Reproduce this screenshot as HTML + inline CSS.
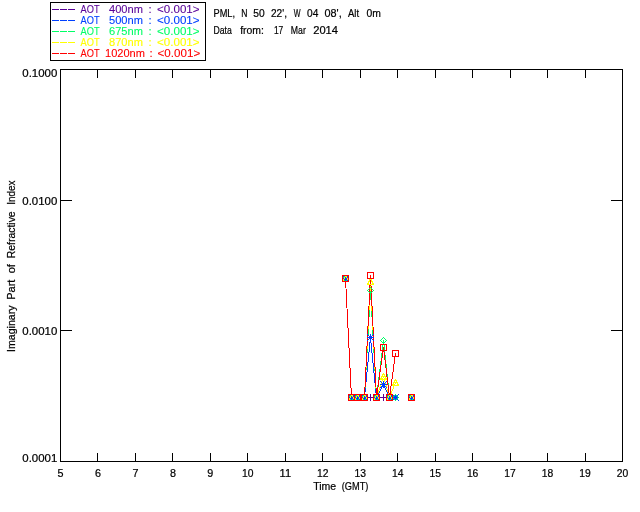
<!DOCTYPE html>
<html lang="en"><head><meta charset="utf-8"><title>Imaginary Part of Refractive Index</title>
<style>html,body{margin:0;padding:0;background:#fff;}svg{display:block;}text{font-family:"Liberation Sans", sans-serif;}</style>
</head><body>
<svg width="640" height="512" viewBox="0 0 640 512">
<rect x="0" y="0" width="640" height="512" fill="#fff"/>
<g stroke="#000" stroke-width="1" fill="none" shape-rendering="crispEdges">
<rect x="60.5" y="69.5" width="562" height="392"/>
<line x1="97.5" y1="69.5" x2="97.5" y2="77.5"/>
<line x1="97.5" y1="461.5" x2="97.5" y2="452.5"/>
<line x1="135.5" y1="69.5" x2="135.5" y2="77.5"/>
<line x1="135.5" y1="461.5" x2="135.5" y2="452.5"/>
<line x1="172.5" y1="69.5" x2="172.5" y2="77.5"/>
<line x1="172.5" y1="461.5" x2="172.5" y2="452.5"/>
<line x1="210.5" y1="69.5" x2="210.5" y2="77.5"/>
<line x1="210.5" y1="461.5" x2="210.5" y2="452.5"/>
<line x1="247.5" y1="69.5" x2="247.5" y2="77.5"/>
<line x1="247.5" y1="461.5" x2="247.5" y2="452.5"/>
<line x1="285.5" y1="69.5" x2="285.5" y2="77.5"/>
<line x1="285.5" y1="461.5" x2="285.5" y2="452.5"/>
<line x1="322.5" y1="69.5" x2="322.5" y2="77.5"/>
<line x1="322.5" y1="461.5" x2="322.5" y2="452.5"/>
<line x1="360.5" y1="69.5" x2="360.5" y2="77.5"/>
<line x1="360.5" y1="461.5" x2="360.5" y2="452.5"/>
<line x1="397.5" y1="69.5" x2="397.5" y2="77.5"/>
<line x1="397.5" y1="461.5" x2="397.5" y2="452.5"/>
<line x1="435.5" y1="69.5" x2="435.5" y2="77.5"/>
<line x1="435.5" y1="461.5" x2="435.5" y2="452.5"/>
<line x1="472.5" y1="69.5" x2="472.5" y2="77.5"/>
<line x1="472.5" y1="461.5" x2="472.5" y2="452.5"/>
<line x1="510.5" y1="69.5" x2="510.5" y2="77.5"/>
<line x1="510.5" y1="461.5" x2="510.5" y2="452.5"/>
<line x1="547.5" y1="69.5" x2="547.5" y2="77.5"/>
<line x1="547.5" y1="461.5" x2="547.5" y2="452.5"/>
<line x1="585.5" y1="69.5" x2="585.5" y2="77.5"/>
<line x1="585.5" y1="461.5" x2="585.5" y2="452.5"/>
<line x1="60.5" y1="200.5" x2="71.5" y2="200.5"/>
<line x1="622.5" y1="200.5" x2="610.5" y2="200.5"/>
<line x1="60.5" y1="330.5" x2="71.5" y2="330.5"/>
<line x1="622.5" y1="330.5" x2="610.5" y2="330.5"/>
<rect x="50.5" y="2.5" width="155" height="58"/>
</g>
<text x="60.50" y="477.00" font-size="11.2" text-anchor="middle" fill="#000" stroke="#000" stroke-width="0.22" textLength="6.00" lengthAdjust="spacingAndGlyphs" >5</text>
<text x="97.97" y="477.00" font-size="11.2" text-anchor="middle" fill="#000" stroke="#000" stroke-width="0.22" textLength="6.00" lengthAdjust="spacingAndGlyphs" >6</text>
<text x="135.43" y="477.00" font-size="11.2" text-anchor="middle" fill="#000" stroke="#000" stroke-width="0.22" textLength="6.00" lengthAdjust="spacingAndGlyphs" >7</text>
<text x="172.90" y="477.00" font-size="11.2" text-anchor="middle" fill="#000" stroke="#000" stroke-width="0.22" textLength="6.00" lengthAdjust="spacingAndGlyphs" >8</text>
<text x="210.37" y="477.00" font-size="11.2" text-anchor="middle" fill="#000" stroke="#000" stroke-width="0.22" textLength="6.00" lengthAdjust="spacingAndGlyphs" >9</text>
<text x="247.83" y="477.00" font-size="11.2" text-anchor="middle" fill="#000" stroke="#000" stroke-width="0.22" textLength="11.50" lengthAdjust="spacingAndGlyphs" >10</text>
<text x="285.30" y="477.00" font-size="11.2" text-anchor="middle" fill="#000" stroke="#000" stroke-width="0.22" textLength="11.50" lengthAdjust="spacingAndGlyphs" >11</text>
<text x="322.77" y="477.00" font-size="11.2" text-anchor="middle" fill="#000" stroke="#000" stroke-width="0.22" textLength="11.50" lengthAdjust="spacingAndGlyphs" >12</text>
<text x="360.23" y="477.00" font-size="11.2" text-anchor="middle" fill="#000" stroke="#000" stroke-width="0.22" textLength="11.50" lengthAdjust="spacingAndGlyphs" >13</text>
<text x="397.70" y="477.00" font-size="11.2" text-anchor="middle" fill="#000" stroke="#000" stroke-width="0.22" textLength="11.50" lengthAdjust="spacingAndGlyphs" >14</text>
<text x="435.17" y="477.00" font-size="11.2" text-anchor="middle" fill="#000" stroke="#000" stroke-width="0.22" textLength="11.50" lengthAdjust="spacingAndGlyphs" >15</text>
<text x="472.63" y="477.00" font-size="11.2" text-anchor="middle" fill="#000" stroke="#000" stroke-width="0.22" textLength="11.50" lengthAdjust="spacingAndGlyphs" >16</text>
<text x="510.10" y="477.00" font-size="11.2" text-anchor="middle" fill="#000" stroke="#000" stroke-width="0.22" textLength="11.50" lengthAdjust="spacingAndGlyphs" >17</text>
<text x="547.57" y="477.00" font-size="11.2" text-anchor="middle" fill="#000" stroke="#000" stroke-width="0.22" textLength="11.50" lengthAdjust="spacingAndGlyphs" >18</text>
<text x="585.03" y="477.00" font-size="11.2" text-anchor="middle" fill="#000" stroke="#000" stroke-width="0.22" textLength="11.50" lengthAdjust="spacingAndGlyphs" >19</text>
<text x="622.50" y="477.00" font-size="11.2" text-anchor="middle" fill="#000" stroke="#000" stroke-width="0.22" textLength="11.50" lengthAdjust="spacingAndGlyphs" >20</text>
<text x="57.30" y="77.30" font-size="11.2" text-anchor="end" fill="#000" stroke="#000" stroke-width="0.22" textLength="35.00" lengthAdjust="spacingAndGlyphs" >0.1000</text>
<text x="57.30" y="205.00" font-size="11.2" text-anchor="end" fill="#000" stroke="#000" stroke-width="0.22" textLength="35.00" lengthAdjust="spacingAndGlyphs" >0.0100</text>
<text x="57.30" y="335.00" font-size="11.2" text-anchor="end" fill="#000" stroke="#000" stroke-width="0.22" textLength="35.00" lengthAdjust="spacingAndGlyphs" >0.0010</text>
<text x="57.30" y="462.20" font-size="11.2" text-anchor="end" fill="#000" stroke="#000" stroke-width="0.22" textLength="35.00" lengthAdjust="spacingAndGlyphs" >0.0001</text>
<text font-size="11.2" fill="#000" stroke="#000" stroke-width="0.22" y="490.00"><tspan x="313.20" textLength="23.00" lengthAdjust="spacingAndGlyphs">Time</tspan> <tspan x="341.70" textLength="26.70" lengthAdjust="spacingAndGlyphs">(GMT)</tspan></text>
<text font-size="11.2" fill="#000" stroke="#000" stroke-width="0.22" y="0.00" transform="translate(14.5,351.5) rotate(-90)"><tspan x="-0.40" textLength="46.40" lengthAdjust="spacingAndGlyphs">Imaginary</tspan> <tspan x="51.80" textLength="20.00" lengthAdjust="spacingAndGlyphs">Part</tspan> <tspan x="78.20" textLength="9.20" lengthAdjust="spacingAndGlyphs">of</tspan> <tspan x="93.20" textLength="47.00" lengthAdjust="spacingAndGlyphs">Refractive</tspan> <tspan x="146.80" textLength="24.20" lengthAdjust="spacingAndGlyphs">Index</tspan></text>
<text font-size="11.2" fill="#000" stroke="#000" stroke-width="0.22" y="17.00"><tspan x="213.50" textLength="21.50" lengthAdjust="spacingAndGlyphs">PML,</tspan> <tspan x="241.30" textLength="6.20" lengthAdjust="spacingAndGlyphs">N</tspan> <tspan x="253.20" textLength="11.40" lengthAdjust="spacingAndGlyphs">50</tspan> <tspan x="271.00" textLength="16.00" lengthAdjust="spacingAndGlyphs">22',</tspan> <tspan x="293.80" textLength="6.80" lengthAdjust="spacingAndGlyphs">W</tspan> <tspan x="307.00" textLength="11.30" lengthAdjust="spacingAndGlyphs">04</tspan> <tspan x="324.50" textLength="17.20" lengthAdjust="spacingAndGlyphs">08',</tspan> <tspan x="348.00" textLength="11.00" lengthAdjust="spacingAndGlyphs">Alt</tspan> <tspan x="366.40" textLength="14.40" lengthAdjust="spacingAndGlyphs">0m</tspan></text>
<text font-size="11.2" fill="#000" stroke="#000" stroke-width="0.22" y="34.00"><tspan x="213.50" textLength="18.30" lengthAdjust="spacingAndGlyphs">Data</tspan> <tspan x="240.20" textLength="23.70" lengthAdjust="spacingAndGlyphs">from:</tspan> <tspan x="273.90" textLength="9.40" lengthAdjust="spacingAndGlyphs">17</tspan> <tspan x="290.80" textLength="15.00" lengthAdjust="spacingAndGlyphs">Mar</tspan> <tspan x="313.20" textLength="24.80" lengthAdjust="spacingAndGlyphs">2014</tspan></text>
<g stroke="#580098" stroke-width="1" shape-rendering="crispEdges">
<line x1="52" y1="9.5" x2="59" y2="9.5"/>
<line x1="60" y1="9.5" x2="67" y2="9.5"/>
<line x1="68" y1="9.5" x2="75" y2="9.5"/>
</g>
<text x="80.60" y="13.40" font-size="11.2" text-anchor="start" fill="#580098" stroke="#580098" stroke-width="0.1" textLength="19.00" lengthAdjust="spacingAndGlyphs" >AOT</text>
<text x="109.00" y="13.40" font-size="11.2" text-anchor="start" fill="#580098" stroke="#580098" stroke-width="0.1" textLength="34.00" lengthAdjust="spacingAndGlyphs" >400nm</text>
<text x="148.50" y="13.40" font-size="11.2" text-anchor="start" fill="#580098" stroke="#580098" stroke-width="0.1" >:</text>
<text x="157.00" y="13.40" font-size="11.2" text-anchor="start" fill="#580098" stroke="#580098" stroke-width="0.1" textLength="42.60" lengthAdjust="spacingAndGlyphs" >&lt;0.001&gt;</text>
<g stroke="#0040ff" stroke-width="1" shape-rendering="crispEdges">
<line x1="52" y1="20.5" x2="59" y2="20.5"/>
<line x1="60" y1="20.5" x2="67" y2="20.5"/>
<line x1="68" y1="20.5" x2="75" y2="20.5"/>
</g>
<text x="80.60" y="24.40" font-size="11.2" text-anchor="start" fill="#0040ff" stroke="#0040ff" stroke-width="0.1" textLength="19.00" lengthAdjust="spacingAndGlyphs" >AOT</text>
<text x="109.00" y="24.40" font-size="11.2" text-anchor="start" fill="#0040ff" stroke="#0040ff" stroke-width="0.1" textLength="34.00" lengthAdjust="spacingAndGlyphs" >500nm</text>
<text x="148.50" y="24.40" font-size="11.2" text-anchor="start" fill="#0040ff" stroke="#0040ff" stroke-width="0.1" >:</text>
<text x="157.00" y="24.40" font-size="11.2" text-anchor="start" fill="#0040ff" stroke="#0040ff" stroke-width="0.1" textLength="42.60" lengthAdjust="spacingAndGlyphs" >&lt;0.001&gt;</text>
<g stroke="#00ff66" stroke-width="1" shape-rendering="crispEdges">
<line x1="52" y1="31.5" x2="59" y2="31.5"/>
<line x1="60" y1="31.5" x2="67" y2="31.5"/>
<line x1="68" y1="31.5" x2="75" y2="31.5"/>
</g>
<text x="80.60" y="35.40" font-size="11.2" text-anchor="start" fill="#00ff66" stroke="#00ff66" stroke-width="0.1" textLength="19.00" lengthAdjust="spacingAndGlyphs" >AOT</text>
<text x="109.00" y="35.40" font-size="11.2" text-anchor="start" fill="#00ff66" stroke="#00ff66" stroke-width="0.1" textLength="34.00" lengthAdjust="spacingAndGlyphs" >675nm</text>
<text x="148.50" y="35.40" font-size="11.2" text-anchor="start" fill="#00ff66" stroke="#00ff66" stroke-width="0.1" >:</text>
<text x="157.00" y="35.40" font-size="11.2" text-anchor="start" fill="#00ff66" stroke="#00ff66" stroke-width="0.1" textLength="42.60" lengthAdjust="spacingAndGlyphs" >&lt;0.001&gt;</text>
<g stroke="#ffff00" stroke-width="1" shape-rendering="crispEdges">
<line x1="52" y1="42.5" x2="59" y2="42.5"/>
<line x1="60" y1="42.5" x2="67" y2="42.5"/>
<line x1="68" y1="42.5" x2="75" y2="42.5"/>
</g>
<text x="80.60" y="46.40" font-size="11.2" text-anchor="start" fill="#ffff00" stroke="#ffff00" stroke-width="0.1" textLength="19.00" lengthAdjust="spacingAndGlyphs" >AOT</text>
<text x="109.00" y="46.40" font-size="11.2" text-anchor="start" fill="#ffff00" stroke="#ffff00" stroke-width="0.1" textLength="34.00" lengthAdjust="spacingAndGlyphs" >870nm</text>
<text x="148.50" y="46.40" font-size="11.2" text-anchor="start" fill="#ffff00" stroke="#ffff00" stroke-width="0.1" >:</text>
<text x="157.00" y="46.40" font-size="11.2" text-anchor="start" fill="#ffff00" stroke="#ffff00" stroke-width="0.1" textLength="42.60" lengthAdjust="spacingAndGlyphs" >&lt;0.001&gt;</text>
<g stroke="#ff0000" stroke-width="1" shape-rendering="crispEdges">
<line x1="52" y1="53.5" x2="59" y2="53.5"/>
<line x1="60" y1="53.5" x2="67" y2="53.5"/>
<line x1="68" y1="53.5" x2="75" y2="53.5"/>
</g>
<text x="80.60" y="57.40" font-size="11.2" text-anchor="start" fill="#ff0000" stroke="#ff0000" stroke-width="0.1" textLength="19.00" lengthAdjust="spacingAndGlyphs" >AOT</text>
<text x="105.00" y="57.40" font-size="11.2" text-anchor="start" fill="#ff0000" stroke="#ff0000" stroke-width="0.1" textLength="40.00" lengthAdjust="spacingAndGlyphs" >1020nm</text>
<text x="149.50" y="57.40" font-size="11.2" text-anchor="start" fill="#ff0000" stroke="#ff0000" stroke-width="0.1" >:</text>
<text x="157.60" y="57.40" font-size="11.2" text-anchor="start" fill="#ff0000" stroke="#ff0000" stroke-width="0.1" textLength="42.60" lengthAdjust="spacingAndGlyphs" >&lt;0.001&gt;</text>
<path d="M345.5 278.5 L351.5 397.5 L357.5 397.5 L364.5 397.5 L370.5 397.5 L376.5 397.5 L383.5 397.5 L389.5 397.5 L395.5 397.5" stroke="#580098" stroke-width="1" fill="none" stroke-linejoin="bevel" shape-rendering="crispEdges"/>
<path d="M345.5 278.5 L351.5 397.5 L357.5 397.5 L364.5 397.5 L370.5 337.5 L376.5 397.5 L383.5 384.5 L389.5 397.5 L395.5 397.5" stroke="#0040ff" stroke-width="1" fill="none" stroke-linejoin="bevel" shape-rendering="crispEdges"/>
<path d="M345.5 278.5 L351.5 397.5 L357.5 397.5 L364.5 397.5 L370.5 290.5 L376.5 397.5 L383.5 340.5 L389.5 397.5 L395.5 397.5" stroke="#00ff66" stroke-width="1" fill="none" stroke-linejoin="bevel" shape-rendering="crispEdges"/>
<path d="M345.5 278.5 L351.5 397.5 L357.5 397.5 L364.5 397.5 L370.5 281.5 L376.5 397.5 L383.5 376.5 L389.5 397.5 L395.5 382.5" stroke="#ffff00" stroke-width="1" fill="none" stroke-linejoin="bevel" shape-rendering="crispEdges"/>
<path d="M345.5 278.5 L351.5 397.5 L357.5 397.5 L364.5 397.5 L370.5 275.5 L376.5 397.5 L383.5 347.5 L389.5 397.5 L395.5 353.5" stroke="#ff0000" stroke-width="1" fill="none" stroke-linejoin="bevel" shape-rendering="crispEdges"/>
<path d="M342 278.5H349M345.5 275V282M348 397.5H355M351.5 394V401M354 397.5H361M357.5 394V401M361 397.5H368M364.5 394V401M367 397.5H374M370.5 394V401M373 397.5H380M376.5 394V401M380 397.5H387M383.5 394V401M386 397.5H393M389.5 394V401M392 397.5H399M395.5 394V401M408 397.5H415M411.5 394V401" stroke="#580098" stroke-width="1" fill="none" stroke-linejoin="bevel" shape-rendering="crispEdges"/>
<path d="M342 278.5H349M345.5 275V282M342 275L349 282M342 282L349 275M348 397.5H355M351.5 394V401M348 394L355 401M348 401L355 394M354 397.5H361M357.5 394V401M354 394L361 401M354 401L361 394M361 397.5H368M364.5 394V401M361 394L368 401M361 401L368 394M367 337.5H374M370.5 334V341M367 334L374 341M367 341L374 334M373 397.5H380M376.5 394V401M373 394L380 401M373 401L380 394M380 384.5H387M383.5 381V388M380 381L387 388M380 388L387 381M386 397.5H393M389.5 394V401M386 394L393 401M386 401L393 394M392 397.5H399M395.5 394V401M392 394L399 401M392 401L399 394M408 397.5H415M411.5 394V401M408 394L415 401M408 401L415 394" stroke="#0040ff" stroke-width="1" fill="none" stroke-linejoin="bevel" shape-rendering="crispEdges"/>
<path d="M342.5 278.5L345.5 275.5L348.5 278.5L345.5 281.5ZM348.5 397.5L351.5 394.5L354.5 397.5L351.5 400.5ZM354.5 397.5L357.5 394.5L360.5 397.5L357.5 400.5ZM361.5 397.5L364.5 394.5L367.5 397.5L364.5 400.5ZM367.5 290.5L370.5 287.5L373.5 290.5L370.5 293.5ZM373.5 397.5L376.5 394.5L379.5 397.5L376.5 400.5ZM380.5 340.5L383.5 337.5L386.5 340.5L383.5 343.5ZM386.5 397.5L389.5 394.5L392.5 397.5L389.5 400.5ZM392.5 397.5L395.5 394.5L398.5 397.5L395.5 400.5ZM408.5 397.5L411.5 394.5L414.5 397.5L411.5 400.5Z" stroke="#00ff66" stroke-width="1" fill="none" stroke-linejoin="bevel" shape-rendering="crispEdges"/>
<path d="M342.5 281.5L345.5 275.5L348.5 281.5ZM348.5 400.5L351.5 394.5L354.5 400.5ZM354.5 400.5L357.5 394.5L360.5 400.5ZM361.5 400.5L364.5 394.5L367.5 400.5ZM367.5 284.5L370.5 278.5L373.5 284.5ZM373.5 400.5L376.5 394.5L379.5 400.5ZM380.5 379.5L383.5 373.5L386.5 379.5ZM386.5 400.5L389.5 394.5L392.5 400.5ZM392.5 385.5L395.5 379.5L398.5 385.5ZM408.5 400.5L411.5 394.5L414.5 400.5Z" stroke="#ffff00" stroke-width="1" fill="none" stroke-linejoin="bevel" shape-rendering="crispEdges"/>
<path d="M342.5 275.5H348.5V281.5H342.5ZM348.5 394.5H354.5V400.5H348.5ZM354.5 394.5H360.5V400.5H354.5ZM361.5 394.5H367.5V400.5H361.5ZM367.5 272.5H373.5V278.5H367.5ZM373.5 394.5H379.5V400.5H373.5ZM380.5 344.5H386.5V350.5H380.5ZM386.5 394.5H392.5V400.5H386.5ZM392.5 350.5H398.5V356.5H392.5ZM408.5 394.5H414.5V400.5H408.5Z" stroke="#ff0000" stroke-width="1" fill="none" stroke-linejoin="bevel" shape-rendering="crispEdges"/>
<defs><g id="ov" shape-rendering="crispEdges">
<rect x="-2" y="-2" width="1" height="1" fill="#0040ff"/>
<rect x="-1" y="-2" width="1" height="1" fill="#00ff66"/>
<rect x="0" y="-2" width="1" height="1" fill="#ffff00"/>
<rect x="1" y="-2" width="1" height="1" fill="#ffff00"/>
<rect x="2" y="-2" width="1" height="1" fill="#0040ff"/>
<rect x="-2" y="-1" width="1" height="1" fill="#00ff66"/>
<rect x="-1" y="-1" width="1" height="1" fill="#ffff00"/>
<rect x="0" y="-1" width="1" height="1" fill="#0040ff"/>
<rect x="1" y="-1" width="1" height="1" fill="#ffff00"/>
<rect x="2" y="-1" width="1" height="1" fill="#0040ff"/>
<rect x="-2" y="0" width="1" height="1" fill="#0040ff"/>
<rect x="-1" y="0" width="1" height="1" fill="#ffff00"/>
<rect x="0" y="0" width="1" height="1" fill="#0040ff"/>
<rect x="1" y="0" width="1" height="1" fill="#0040ff"/>
<rect x="2" y="0" width="1" height="1" fill="#ffff00"/>
<rect x="-2" y="1" width="1" height="1" fill="#ffff00"/>
<rect x="-1" y="1" width="1" height="1" fill="#0040ff"/>
<rect x="0" y="1" width="1" height="1" fill="#0040ff"/>
<rect x="1" y="1" width="1" height="1" fill="#0040ff"/>
<rect x="2" y="1" width="1" height="1" fill="#ffff00"/>
<rect x="-2" y="2" width="1" height="1" fill="#ffff00"/>
<rect x="-1" y="2" width="1" height="1" fill="#00ff66"/>
<rect x="0" y="2" width="1" height="1" fill="#0040ff"/>
<rect x="1" y="2" width="1" height="1" fill="#00ff66"/>
<rect x="2" y="2" width="1" height="1" fill="#0040ff"/>
</g></defs>
<use href="#ov" x="345" y="278"/>
<use href="#ov" x="351" y="397"/>
<use href="#ov" x="357" y="397"/>
<use href="#ov" x="364" y="397"/>
<use href="#ov" x="376" y="397"/>
<use href="#ov" x="389" y="397"/>
<use href="#ov" x="411" y="397"/>
</svg></body></html>
